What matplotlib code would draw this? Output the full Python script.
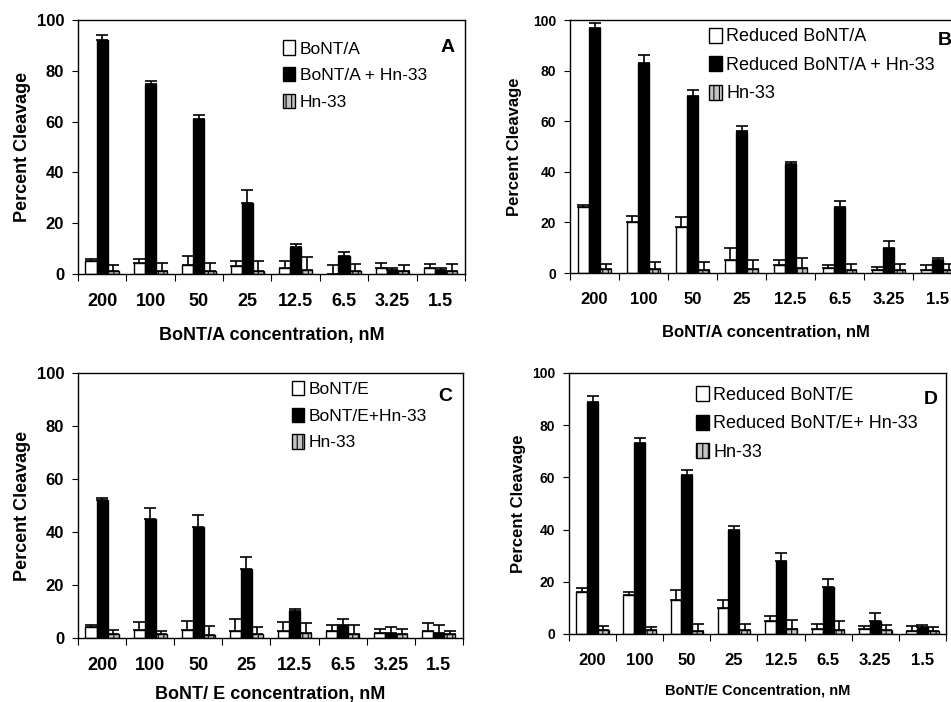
import matplotlib
matplotlib.use("Agg")
import matplotlib.pyplot as plt
import numpy as np

plt.rcParams['font.family'] = ['Liberation Sans', 'DejaVu Sans']
plt.rcParams['hatch.linewidth'] = 0.8

conc = ["200", "100", "50", "25", "12.5", "6.5", "3.25", "1.5"]

# panel A
a_tox = [5, 4.5, 3.5, 3, 2.5, 0, 2.5, 2.5]
a_tox_err = [1, 1.5, 3.5, 2, 2.5, 3.5, 2, 1.5]
a_mix = [92, 75, 61, 28, 10.5, 7, 1.5, 1.5]
a_mix_err = [2, 1, 1.5, 5, 1.5, 1.5, 1, 1]
a_hn = [1, 1, 1, 1, 1.5, 1, 1, 1]
a_hn_err = [2.5, 3.5, 3.5, 4, 5, 3, 2.5, 3]

# panel B
b_tox = [26, 20, 18, 5, 3, 2, 1, 1]
b_tox_err = [1, 2.5, 4, 5, 2, 1, 1.5, 2]
b_mix = [97, 83, 70, 56, 43, 26, 10, 5]
b_mix_err = [2, 3, 2.5, 2, 1, 2.5, 2.5, 1]
b_hn = [1.5, 1.5, 1, 1.5, 2, 1, 1, 1]
b_hn_err = [2, 3, 3.5, 3.5, 4, 2.5, 2.5, 2.5]

# panel C
c_tox = [4, 3, 3, 2.5, 2.5, 2.5, 2, 2.5]
c_tox_err = [1, 3, 3.5, 4.5, 3.5, 2.5, 1.5, 3]
c_mix = [52, 45, 42, 26, 10, 5, 2, 2]
c_mix_err = [1, 4, 4.5, 4.5, 1, 2, 2, 3]
c_hn = [1.5, 1.5, 1, 1.5, 2, 1.5, 1.5, 1.5]
c_hn_err = [1.5, 1, 3.5, 2.5, 3.5, 3.5, 2, 1]

# panel D
d_tox = [16, 15, 13, 10, 5, 2, 2, 1]
d_tox_err = [1.5, 1, 4, 3, 2, 2, 1, 2]
d_mix = [89, 73, 61, 40, 28, 18, 5, 2.5]
d_mix_err = [2, 2, 2, 1.5, 3, 3, 3, 1]
d_hn = [1.5, 1.5, 1, 1.5, 2, 1.5, 1.5, 1]
d_hn_err = [1.5, 1, 3, 2.5, 3.5, 3.5, 2, 1.5]


def draw_panel(ax, series, errs, labels, letter, xlabel, tick_fs, ylab_fs, xlab_fs,
               leg_fs, leg_pos, letter_pos, xlabel_pad, ytick_fs, ylabel_pad):
    x = np.arange(len(conc))
    w = 0.23
    styles = [dict(color='white', edgecolor='black'),
              dict(color='black', edgecolor='black'),
              dict(color='#c4c4c4', edgecolor='black', hatch='|||')]
    handles = []
    for i, (vals, err, st) in enumerate(zip(series, errs, styles)):
        pos = x + (i - 1) * w
        b = ax.bar(pos, vals, w, linewidth=1.0, label=labels[i], zorder=2, **st)
        handles.append(b)
        ax.errorbar(pos, vals, yerr=[np.zeros(len(err)), err], fmt='none',
                    ecolor='black', elinewidth=1.2, capsize=4, capthick=1.2, zorder=3)
    ax.set_xlim(-0.5, len(conc) - 0.5)
    ax.set_ylim(0, 100)
    ax.set_yticks(range(0, 101, 20))
    ax.set_xticks(x)
    ax.set_xticklabels(conc, fontsize=tick_fs, fontweight='bold')
    ax.set_xticks(np.arange(-0.5, len(conc), 1), minor=True)
    ax.tick_params(axis='x', which='major', length=0, pad=14)
    ax.tick_params(axis='x', which='minor', length=5, direction='out', width=0.8)
    ax.tick_params(axis='y', length=4, direction='out', width=0.8, pad=6,
                   labelsize=ytick_fs)
    for t in ax.get_yticklabels():
        t.set_fontweight('bold')
    for sp in ax.spines.values():
        sp.set_linewidth(1.0)
    ax.set_ylabel("Percent Cleavage", fontsize=ylab_fs, fontweight='bold',
                  labelpad=ylabel_pad)
    ax.set_xlabel(xlabel, fontsize=xlab_fs, fontweight='bold', labelpad=xlabel_pad)
    ax.legend(handles=handles, loc='upper left', bbox_to_anchor=leg_pos, frameon=False,
              fontsize=leg_fs, handlelength=0.7, handleheight=0.9, handletextpad=0.25,
              labelspacing=0.6, borderaxespad=0, borderpad=0)
    ax.text(letter_pos[0], letter_pos[1], letter, transform=ax.transAxes,
            fontsize=14, fontweight='bold', ha='center', va='center')


fig = plt.figure(figsize=(9.51, 7.02), dpi=100)
ax_a = fig.add_axes([0.0820, 0.6097, 0.4069, 0.3618])
ax_b = fig.add_axes([0.5994, 0.6111, 0.4122, 0.3604])
ax_c = fig.add_axes([0.0820, 0.0912, 0.4048, 0.3775])
ax_d = fig.add_axes([0.5983, 0.0969, 0.3964, 0.3718])

draw_panel(ax_a, [a_tox, a_mix, a_hn], [a_tox_err, a_mix_err, a_hn_err],
           ["BoNT/A", "BoNT/A + Hn-33", "Hn-33"], "A", "BoNT/A concentration, nM",
           13, 13, 13, 12.5, (0.53, 0.92), (0.955, 0.89), 12, 12, 4)
draw_panel(ax_b, [b_tox, b_mix, b_hn], [b_tox_err, b_mix_err, b_hn_err],
           ["Reduced BoNT/A", "Reduced BoNT/A + Hn-33", "Hn-33"], "B",
           "BoNT/A concentration, nM",
           12, 12, 12, 13, (0.355, 0.97), (0.955, 0.92), 12, 10, 8)
draw_panel(ax_c, [c_tox, c_mix, c_hn], [c_tox_err, c_mix_err, c_hn_err],
           ["BoNT/E", "BoNT/E+Hn-33", "Hn-33"], "C", "BoNT/ E concentration, nM",
           13, 13, 13, 12.5, (0.556, 0.97), (0.955, 0.91), 8, 12, 4)
draw_panel(ax_d, [d_tox, d_mix, d_hn], [d_tox_err, d_mix_err, d_hn_err],
           ["Reduced BoNT/E", "Reduced BoNT/E+ Hn-33", "Hn-33"], "D",
           "BoNT/E Concentration, nM",
           12, 12, 10.5, 13, (0.337, 0.95), (0.96, 0.9), 11, 10, 4)

fig.savefig("out.png", dpi=100)
